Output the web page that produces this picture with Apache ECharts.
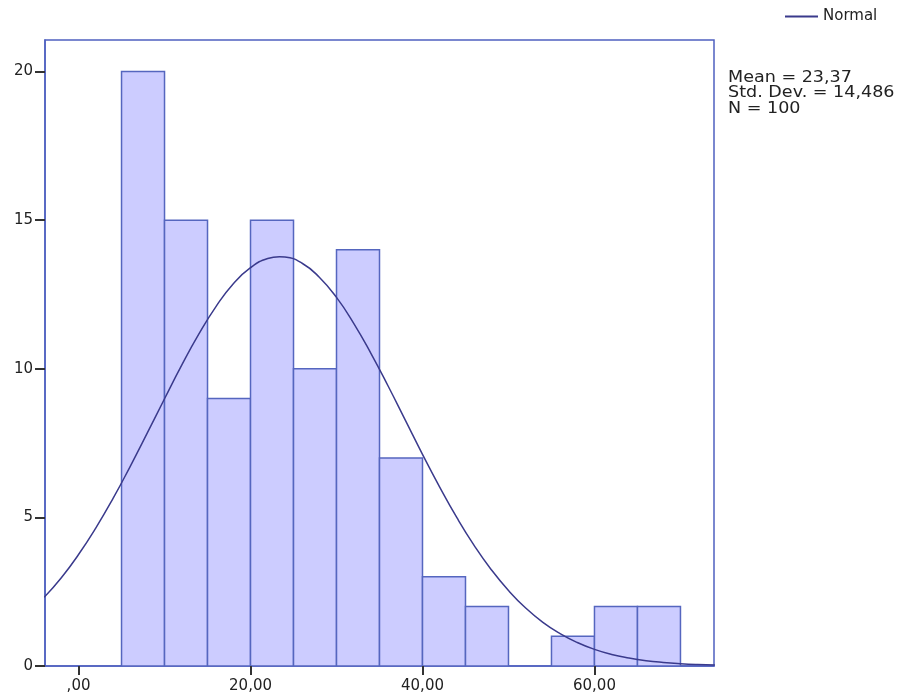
<!DOCTYPE html>
<html><head><meta charset="utf-8">
<script src="https://cdn.jsdelivr.net/npm/echarts@6/dist/echarts.min.js"></script>
<style>html,body{margin:0;padding:0;background:#fff}#c{width:901px;height:696px}</style>
</head><body><div id="c"></div>
<script>
// Histogram bins (start of bin, width 5) and counts
const binStarts = [5, 10, 15, 20, 25, 30, 35, 40, 45, 50, 55, 60, 65];
const binWidth = 5;
const counts = [20, 15, 9, 15, 10, 14, 7, 3, 2, 0, 1, 2, 2];

// Normal curve points
const curveX = [-4, -2, 0, 2, 4, 6, 8, 10, 12, 14, 16, 18, 20, 22, 23.37, 24, 26, 28, 30, 32, 34, 36, 38, 40, 42, 44, 46, 48, 50, 52, 54, 56, 58, 60, 62, 64, 66, 68, 70, 72, 74];
const curveY = [2.31, 2.97, 3.75, 4.64, 5.63, 6.71, 7.84, 8.99, 10.12, 11.17, 12.10, 12.86, 13.40, 13.71, 13.77, 13.76, 13.55, 13.08, 12.40, 11.53, 10.52, 9.42, 8.27, 7.12, 6.02, 4.99, 4.06, 3.24, 2.54, 1.95, 1.47, 1.09, 0.79, 0.56, 0.39, 0.27, 0.18, 0.12, 0.078, 0.049, 0.031];

// Tick labels
const xTickValues = [0, 20, 40, 60];
const xTickLabels = [',00', '20,00', '40,00', '60,00'];
const yTickValues = [0, 5, 10, 15, 20];
const yTickLabels = ['0', '5', '10', '15', '20'];

const legendName = 'Normal';
const statsLines = ['Mean = 23,37', 'Std. Dev. = 14,486', 'N = 100'];

const FONT = 'DejaVu Sans';
const frameColor = '#4f60c0';
const curveColor = '#3a3a8c';

const barData = binStarts.map((s, i) => [s, s + binWidth, counts[i]]);
const curveData = curveX.map((x, i) => [x, curveY[i]]);

const chart = echarts.init(document.getElementById('c'));
chart.setOption({
  animation: false,
  backgroundColor: '#fff',
  grid: { left: 45, right: 187, top: 40, bottom: 30, show: true, borderColor: frameColor, borderWidth: 1.5, backgroundColor: 'transparent' },
  legend: {
    show: true, left: 780, top: 4, itemWidth: 33, itemHeight: 2,
    data: [{ name: legendName, icon: 'rect' }],
    itemStyle: { color: curveColor },
    textStyle: { fontFamily: FONT, fontSize: 15, color: '#222' }
  },
  xAxis: {
    type: 'value', min: -3.9, max: 73.9,
    axisLine: { show: true, onZero: false, lineStyle: { color: frameColor, width: 1.5 } },
    axisTick: { show: true, customValues: xTickValues, length: 9, lineStyle: { color: '#333', width: 2 } },
    axisLabel: {
      customValues: xTickValues, margin: 13,
      formatter: v => xTickLabels[xTickValues.indexOf(v)] ?? '',
      fontFamily: FONT, fontSize: 15, color: '#222'
    },
    splitLine: { show: false }
  },
  yAxis: {
    type: 'value', min: 0, max: 21.06,
    axisLine: { show: true, onZero: false, lineStyle: { color: frameColor, width: 1.5 } },
    axisTick: { show: true, customValues: yTickValues, length: 10, lineStyle: { color: '#333', width: 2 } },
    axisLabel: {
      customValues: yTickValues, margin: 12,
      formatter: v => yTickLabels[yTickValues.indexOf(v)] ?? '',
      fontFamily: FONT, fontSize: 15, color: '#222'
    },
    splitLine: { show: false }
  },
  series: [
    {
      type: 'custom', name: 'Histogram', data: barData,
      encode: { x: [0, 1], y: 2 },
      clip: true, z: 2,
      renderItem: (params, api) => {
        const s = api.value(0), e = api.value(1), c = api.value(2);
        if (!c) return null;
        const p0 = api.coord([s, c]);
        const p1 = api.coord([e, 0]);
        return {
          type: 'rect',
          shape: { x: p0[0], y: p0[1], width: p1[0] - p0[0], height: p1[1] - p0[1] },
          style: { fill: '#ccccff', stroke: '#5566bf', lineWidth: 1.5 }
        };
      }
    },
    {
      type: 'line', name: legendName, data: curveData,
      smooth: true, symbol: 'none', showSymbol: false, clip: true, z: 3,
      lineStyle: { color: curveColor, width: 1.5 },
      itemStyle: { color: curveColor }
    }
  ],
  graphic: [
    {
      type: 'text', x: 728, y: 70, scaleX: 1.17,
      style: {
        text: statsLines.join('\n'),
        font: '15px "DejaVu Sans"', lineHeight: 15.5, fill: '#222'
      }
    }
  ]
});
</script>
</body></html>
